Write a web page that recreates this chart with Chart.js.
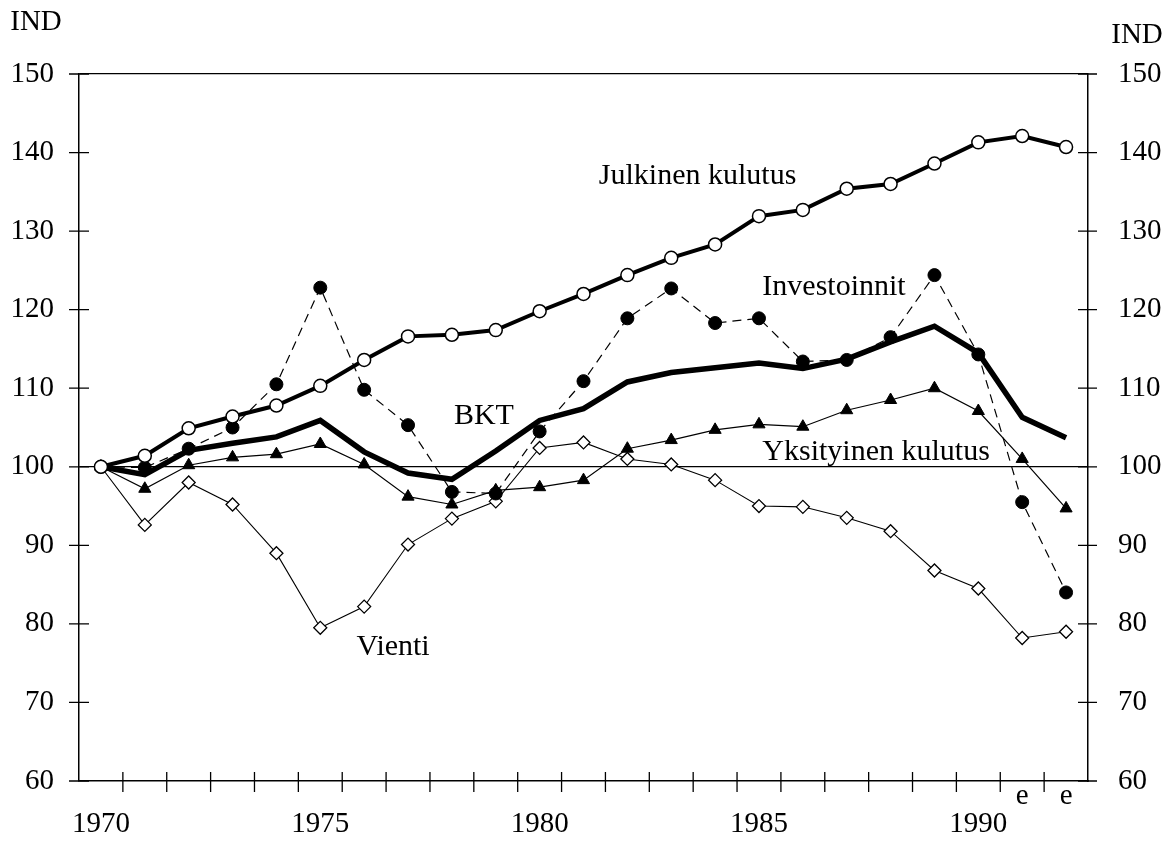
<!DOCTYPE html>
<html>
<head>
<meta charset="utf-8">
<script src="https://cdn.jsdelivr.net/npm/chart.js@4"></script>
<style>
  body { margin: 0; background: #fff; }
  #wrap { width: 1173px; height: 851px; }
</style>
</head>
<body>
<div id="wrap"><canvas id="chart" width="1173" height="851"></canvas></div>
<script>
// Years on the x axis, "e" = estimate
const years = ['1970','1971','1972','1973','1974','1975','1976','1977','1978','1979','1980',
               '1981','1982','1983','1984','1985','1986','1987','1988','1989','1990','1991','1992'];
const shownYears = ['1970','1975','1980','1985','1990'];
const estimateYears = ['1991','1992'];
const yTicks = [60, 70, 80, 90, 100, 110, 120, 130, 140, 150];

// Index values, 1970 = 100
const julkinen = [100, 101.4, 104.9, 106.4, 107.8, 110.3, 113.6, 116.6, 116.8, 117.4, 119.8,
                  122.0, 124.4, 126.6, 128.3, 131.9, 132.7, 135.4, 136.0, 138.6, 141.3, 142.1, 140.7];
const investoinnit = [100, 99.9, 102.3, 105.0, 110.5, 122.8, 109.8, 105.3, 96.8, 96.6, 104.5,
                      110.9, 118.9, 122.7, 118.3, 118.9, 113.4, 113.6, 116.5, 124.4, 114.3, 95.5, 84.0];
const bkt = [100, 99.0, 102.1, 103.0, 103.8, 105.9, 101.9, 99.2, 98.4, 102.0, 105.9,
             107.4, 110.8, 112.0, 112.6, 113.2, 112.5, 113.7, 115.9, 117.9, 114.5, 106.3, 103.7];
const yksityinen = [100, 97.2, 100.2, 101.2, 101.6, 102.9, 100.3, 96.2, 95.2, 97.0, 97.4,
                    98.3, 102.3, 103.4, 104.7, 105.4, 105.1, 107.2, 108.5, 110.0, 107.1, 101.0, 94.7];
const vienti = [100, 92.6, 98.0, 95.2, 89.0, 79.5, 82.2, 90.1, 93.4, 95.6, 102.4,
                103.1, 101.0, 100.3, 98.3, 95.0, 94.9, 93.5, 91.8, 86.8, 84.5, 78.2, 79.0];

// Series names and where they sit (year index, value)
const seriesNames = ['Julkinen kulutus', 'Investoinnit', 'BKT', 'Yksityinen kulutus', 'Vienti'];
const nameAnchors = [[13.6, 137.0], [16.71, 122.9], [8.73, 106.5], [17.67, 101.9], [6.66, 77.1]];

const FONT = 'Liberation Serif, Times New Roman, serif';

const xLabels = years.map(y => [estimateYears.includes(y) ? 'e' : '', shownYears.includes(y) ? y : '']);

// cross-shaped tick marks, series names and the IND captions
const decorations = {
    id: 'decorations',
    afterDraw(chart) {
        const ctx = chart.ctx;
        const x = chart.scales.x, y = chart.scales.y;
        const area = chart.chartArea;
        ctx.save();
        ctx.strokeStyle = '#000';
        ctx.lineWidth = 1.3;
        ctx.beginPath();
        for (let i = 1; i < years.length; i++) {
            const px = x.getPixelForValue(i - 0.5);
            ctx.moveTo(px, area.bottom - 9);
            ctx.lineTo(px, area.bottom + 11);
        }
        yTicks.forEach(v => {
            const py = y.getPixelForValue(v);
            ctx.moveTo(area.left - 10, py);
            ctx.lineTo(area.left + 10, py);
            ctx.moveTo(area.right - 10, py);
            ctx.lineTo(area.right + 9, py);
        });
        ctx.stroke();

        ctx.fillStyle = '#000';
        ctx.font = '30px ' + FONT;
        ctx.textAlign = 'center';
        ctx.textBaseline = 'middle';
        seriesNames.forEach((name, i) => {
            ctx.fillText(name, x.getPixelForValue(nameAnchors[i][0]), y.getPixelForValue(nameAnchors[i][1]));
        });
        ctx.font = '29px ' + FONT;
        ctx.fillText('IND', 36, 22);
        ctx.fillText('IND', 1137, 35);
        ctx.restore();
    }
};

const ctx = document.getElementById('chart').getContext('2d');
new Chart(ctx, {
    type: 'line',
    data: {
        labels: xLabels,
        datasets: [
            {
                label: 'BKT', data: bkt, order: 5,
                borderColor: '#000', borderWidth: 5.5, pointRadius: 0,
                tension: 0, fill: false
            },
            {
                label: 'Yksityinen kulutus', data: yksityinen, order: 4,
                borderColor: '#000', borderWidth: 1.2,
                pointStyle: 'triangle', pointRadius: 7,
                pointBackgroundColor: '#000', pointBorderColor: '#000', pointBorderWidth: 1
            },
            {
                label: 'Vienti', data: vienti, order: 3,
                borderColor: '#000', borderWidth: 1.1,
                pointStyle: 'rectRot', pointRadius: 6.5,
                pointBackgroundColor: '#fff', pointBorderColor: '#000', pointBorderWidth: 1.3
            },
            {
                label: 'Investoinnit', data: investoinnit, order: 2,
                borderColor: '#000', borderWidth: 1.2, borderDash: [9, 6],
                pointStyle: 'circle', pointRadius: 6.5,
                pointBackgroundColor: '#000', pointBorderColor: '#000', pointBorderWidth: 1
            },
            {
                label: 'Julkinen kulutus', data: julkinen, order: 1,
                borderColor: '#000', borderWidth: 4,
                pointStyle: 'circle', pointRadius: 6.5,
                pointBackgroundColor: '#fff', pointBorderColor: '#000', pointBorderWidth: 1.5
            }
        ]
    },
    options: {
        responsive: false,
        animation: false,
        devicePixelRatio: 1,
        layout: { padding: { top: 74, left: 0, right: 0, bottom: 0 } },
        plugins: {
            legend: { display: false },
            tooltip: { enabled: false },
            title: { display: false }
        },
        scales: {
            x: {
                type: 'category',
                offset: true,
                afterFit(scale) { scale.height = 70; },
                grid: { display: true, offset: true, drawOnChartArea: false, drawTicks: false },
                border: { display: true, color: '#000', width: 1.5 },
                ticks: {
                    autoSkip: false, maxRotation: 0, minRotation: 0,
                    padding: 1, color: '#000',
                    font: { family: FONT, size: 29, lineHeight: 0.97 }
                }
            },
            y: {
                position: 'left',
                min: 60, max: 150,
                afterFit(scale) { scale.width = 79; },
                grid: {
                    drawTicks: false,
                    color: c => (c.tick && (c.tick.value === 100 || c.tick.value === 150)) ? '#000' : 'rgba(0,0,0,0)',
                    lineWidth: 1.3
                },
                border: { display: true, color: '#000', width: 1.5 },
                ticks: { stepSize: 10, padding: 25, color: '#000', font: { family: FONT, size: 29 } }
            },
            y2: {
                position: 'right',
                min: 60, max: 150,
                afterFit(scale) { scale.width = 85; },
                grid: { drawOnChartArea: false, drawTicks: false },
                border: { display: true, color: '#000', width: 1.5 },
                ticks: { stepSize: 10, padding: 30, color: '#000', font: { family: FONT, size: 29 } }
            }
        }
    },
    plugins: [decorations]
});
</script>
</body>
</html>
